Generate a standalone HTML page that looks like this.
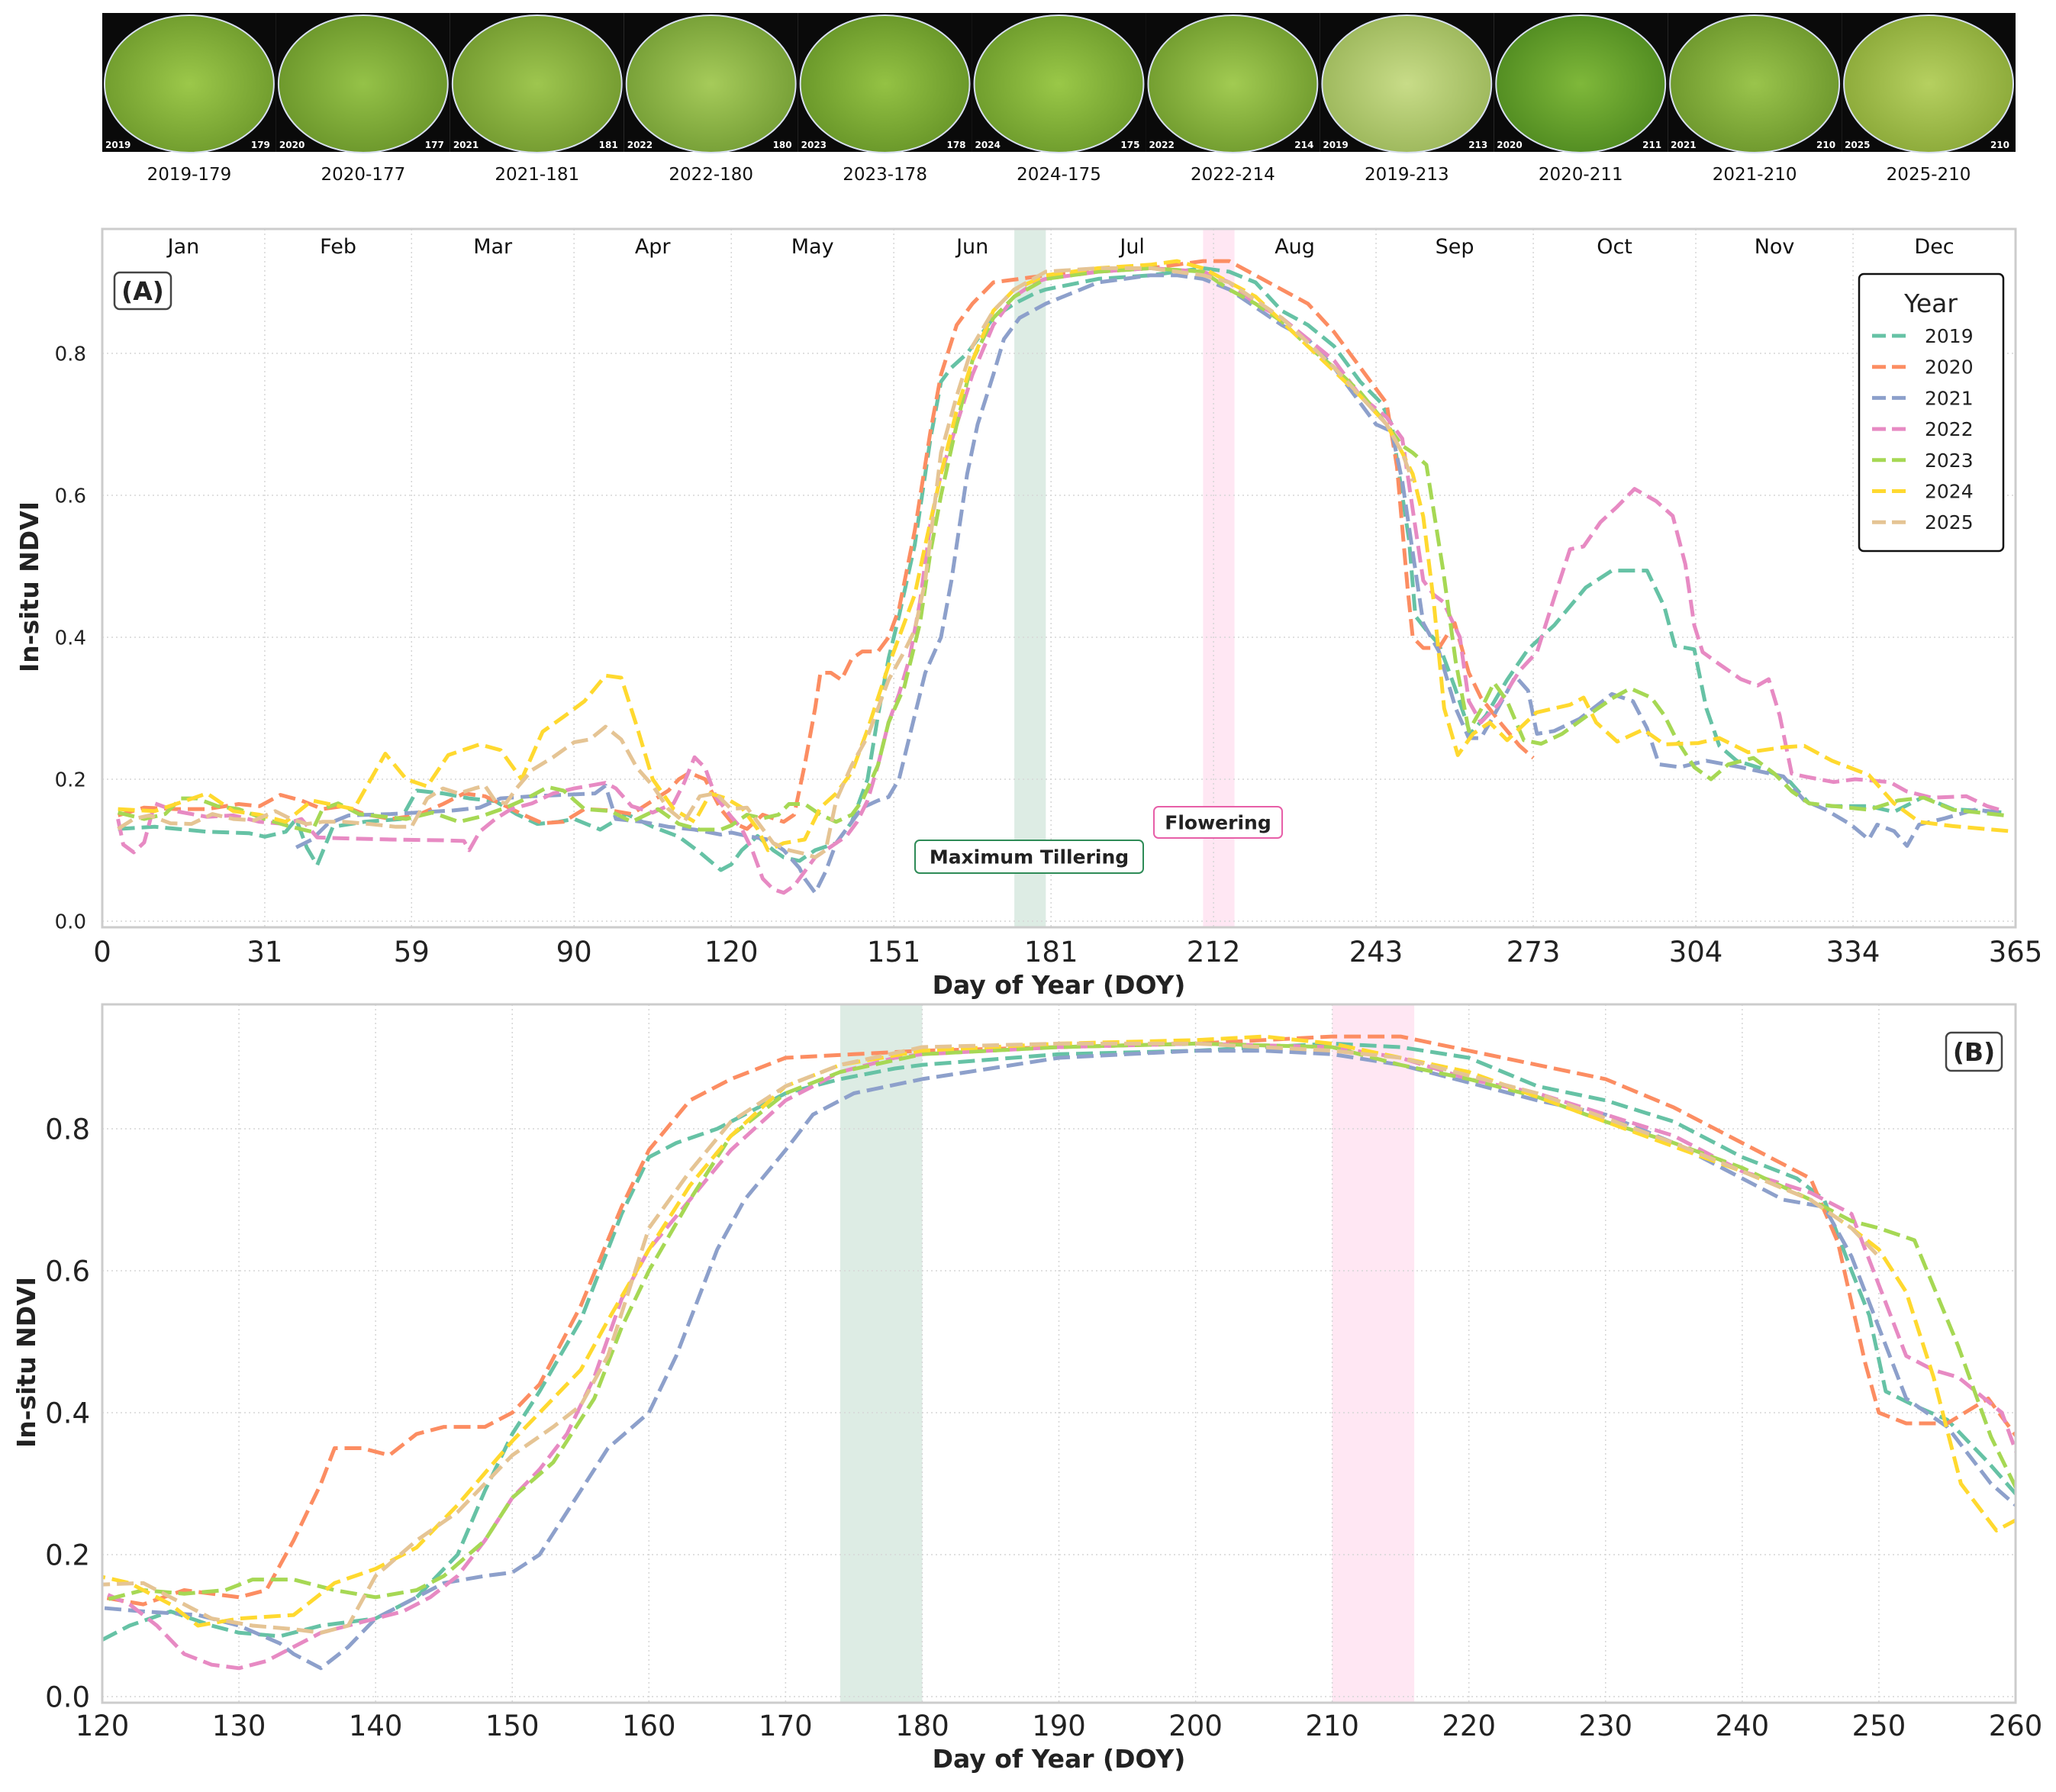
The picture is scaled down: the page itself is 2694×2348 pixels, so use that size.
<!DOCTYPE html>
<html><head><meta charset="utf-8"><style>
html,body{margin:0;padding:0;background:#fff;}
svg{display:block;font-family:"DejaVu Sans","Liberation Sans",sans-serif;}
</style></head><body>
<svg id="fig" width="2694" height="2348" viewBox="0 0 2694 2348" xmlns="http://www.w3.org/2000/svg">
<defs>
<clipPath id="clipA"><rect x="134" y="300" width="2507" height="915"/></clipPath>
<clipPath id="clipB"><rect x="134" y="1316" width="2507" height="915"/></clipPath>
</defs>
<g id="photos"></g>
<g id="panelA"></g>
<g id="panelB"></g>
</svg>
<script>
const years = ["2019","2020","2021","2022","2023","2024","2025"];
const colors = ["#66c2a5","#fc8d62","#8da0cb","#e78ac3","#a6d854","#ffd92f","#e5c494"];
const photoLabels = ["2019-179","2020-177","2021-181","2022-180","2023-178","2024-175","2022-214","2019-213","2020-211","2021-210","2025-210"];
const monthNames = ["Jan","Feb","Mar","Apr","May","Jun","Jul","Aug","Sep","Oct","Nov","Dec"];
const monthStarts = [0,31,59,90,120,151,181,212,243,273,304,334,365];
const ticksA = [0,31,59,90,120,151,181,212,243,273,304,334,365];
const ticksB = [120,130,140,150,160,170,180,190,200,210,220,230,240,250,260];
const yTicks = [0.0,0.2,0.4,0.6,0.8];

const doy2019 = [3,10,20,28,31,35,37,39,41,44,50,57,60,65,70,75,79,83,87,90,95,100,105,110,114,118,120,122,125,128,130,133,136,140,143,146,148,150,152,155,158,160,162,165,168,170,174,178,180,190,200,210,215,220,225,230,235,240,244,246,248,249.3,250.5,252.6,255,258,261,264,268,272,277,283,288,294.7,298,300,303.7,306,308.5,311.8,317.5,322,325.6,330,337,341.8,347.4,353,363];
const ndvi2019 = [0.13,0.133,0.126,0.124,0.119,0.126,0.144,0.104,0.079,0.133,0.14,0.144,0.184,0.18,0.173,0.169,0.151,0.137,0.14,0.144,0.129,0.151,0.133,0.119,0.097,0.072,0.08,0.10,0.12,0.10,0.09,0.085,0.10,0.11,0.14,0.20,0.29,0.37,0.43,0.53,0.68,0.76,0.78,0.80,0.83,0.85,0.87,0.885,0.89,0.905,0.91,0.92,0.915,0.90,0.86,0.84,0.81,0.76,0.73,0.70,0.60,0.537,0.43,0.41,0.39,0.33,0.264,0.29,0.34,0.383,0.417,0.47,0.494,0.494,0.443,0.388,0.383,0.3,0.247,0.226,0.213,0.196,0.166,0.162,0.162,0.154,0.175,0.158,0.153];
const doy2020 = [3,8,14,20,26,30,34,38,42,46,50,55,60,65,69,73,77,80,84,88,92,97,101,104,108,110,112,115,118,120,123,126,128,130,132,134,136,137,139,141,143,145,148,150,152,155,158,160,163,166,170,175,180,190,200,210,215,220,225,230,235,240,245,247,249,250,252,255,258,260.7,263,267,270.4,273];
const ndvi2020 = [0.149,0.16,0.158,0.158,0.165,0.162,0.178,0.17,0.158,0.162,0.151,0.144,0.149,0.165,0.18,0.176,0.162,0.151,0.138,0.14,0.158,0.156,0.151,0.165,0.184,0.2,0.209,0.2,0.158,0.14,0.13,0.15,0.145,0.14,0.15,0.22,0.30,0.35,0.35,0.34,0.37,0.38,0.38,0.40,0.44,0.55,0.69,0.77,0.84,0.87,0.90,0.905,0.91,0.915,0.92,0.93,0.93,0.91,0.89,0.87,0.83,0.78,0.73,0.64,0.47,0.40,0.385,0.385,0.42,0.35,0.315,0.277,0.247,0.23];
const doy2021 = [37,40,43,47,55,60,67,72,76,82,88,94,96,98,103,108,113,118,120,123,127,130,133,134,136,138,140,142,145,148,150,152,155,157,160,162,165,167,170,172,175,180,185,190,195,200,205,210,215,220,225,230,235,240,243,246,248,250,252,255,258.2,260.7,263,265.5,269.6,272,273.7,277,281.8,288,292,294.7,297,301,306,312.5,320.7,324.7,328.8,333.6,337,338.6,341.8,344.3,346.6,351.5,357.2,362.9];
const ndvi2021 = [0.104,0.115,0.137,0.149,0.151,0.153,0.156,0.16,0.173,0.176,0.178,0.18,0.191,0.144,0.14,0.133,0.129,0.122,0.125,0.12,0.115,0.10,0.075,0.06,0.04,0.07,0.11,0.13,0.16,0.17,0.175,0.20,0.29,0.35,0.40,0.48,0.63,0.70,0.77,0.82,0.85,0.87,0.885,0.90,0.905,0.91,0.91,0.905,0.89,0.865,0.84,0.82,0.78,0.73,0.70,0.69,0.62,0.52,0.42,0.38,0.30,0.258,0.258,0.29,0.345,0.325,0.264,0.268,0.285,0.32,0.31,0.272,0.221,0.217,0.226,0.217,0.204,0.17,0.157,0.136,0.115,0.136,0.127,0.106,0.136,0.145,0.157,0.153];
const doy2022 = [3,4,6,8,10,14,20,25,30,35,38,41,45,55,65,69,70,72,75,78,82,86,90,93,96,98,101,105,109,111,113,115,117,120,122,124,126,128,130,132,134,136,138,140,142,144,146,148,150,152,154,156,158,160,163,166,170,174,178,180,190,200,210,215,220,225,230,235,240,245,248,250,252,254,255.8,259,260.7,263,266.4,270.4,273.7,277,280,282.6,285.8,289,292.3,296.4,299.6,302,303.7,305.3,308.5,312.6,315.8,317.9,320,322.3,324.7,330.3,334.4,341,344.2,349,355.6,359.6,362.9];
const ndvi2022 = [0.144,0.108,0.097,0.111,0.166,0.155,0.147,0.149,0.14,0.137,0.144,0.118,0.117,0.115,0.114,0.113,0.1,0.126,0.144,0.158,0.166,0.18,0.187,0.191,0.195,0.187,0.162,0.153,0.166,0.195,0.231,0.216,0.176,0.147,0.13,0.10,0.06,0.045,0.04,0.05,0.07,0.09,0.10,0.11,0.12,0.14,0.17,0.22,0.28,0.32,0.37,0.45,0.56,0.63,0.70,0.77,0.84,0.88,0.90,0.905,0.915,0.92,0.915,0.90,0.87,0.85,0.82,0.79,0.74,0.71,0.68,0.58,0.48,0.46,0.45,0.40,0.31,0.28,0.306,0.353,0.379,0.456,0.524,0.528,0.562,0.584,0.609,0.592,0.571,0.503,0.417,0.379,0.362,0.341,0.332,0.341,0.29,0.208,0.204,0.196,0.2,0.196,0.183,0.174,0.176,0.162,0.155];
const doy2023 = [3,8,12,15,18,22,26,31,36,40,42,45,49,54,58,63,68,72,77,81,85,88,92,97,101,106,110,114,118,120,123,126,129,131,134,137,140,143,145,148,150,153,156,158,160,163,166,170,174,180,190,200,210,215,220,225,230,235,240,245,248,250,252.6,255.8,258.2,260.7,263,265.5,268,271.2,274.5,278.5,283.4,288.3,291.5,295.5,298,300.4,303.7,306.9,310.2,315,319,322.3,325.6,330.4,337,342.6,347.5,353,358,362.9];
const ndvi2023 = [0.153,0.144,0.151,0.173,0.173,0.162,0.158,0.144,0.133,0.126,0.158,0.166,0.151,0.147,0.144,0.153,0.14,0.147,0.16,0.173,0.189,0.184,0.158,0.155,0.14,0.158,0.137,0.129,0.129,0.135,0.15,0.145,0.15,0.165,0.165,0.15,0.14,0.15,0.17,0.22,0.28,0.33,0.42,0.52,0.60,0.70,0.79,0.85,0.88,0.905,0.915,0.92,0.915,0.89,0.87,0.845,0.81,0.78,0.745,0.70,0.67,0.66,0.643,0.494,0.366,0.268,0.298,0.336,0.31,0.255,0.25,0.264,0.29,0.315,0.328,0.315,0.29,0.255,0.217,0.2,0.221,0.23,0.208,0.183,0.166,0.162,0.157,0.17,0.174,0.157,0.153,0.149];
const doy2024 = [3,10,20,25,30,35,40,48,54,58,62,66,72,76,80,84,88,92,96,99,102,105,109,113,116,119,122,125,127,130,134,137,140,143,146,150,153,155,157,160,163,166,170,174,180,190,200,205,210,215,220,230,240,245,248,250,252,254,256,258.6,261.5,264.7,268,273.6,280,282.6,285,289,294,298,304.5,308.5,314,320.7,324.7,330,337,341.8,346.6,353,363.7];
const ndvi2024 = [0.158,0.155,0.18,0.155,0.15,0.14,0.17,0.158,0.236,0.2,0.19,0.234,0.249,0.241,0.2,0.267,0.288,0.31,0.346,0.343,0.274,0.2,0.158,0.14,0.18,0.173,0.16,0.13,0.10,0.11,0.115,0.16,0.18,0.21,0.27,0.36,0.42,0.46,0.53,0.63,0.72,0.79,0.86,0.89,0.91,0.92,0.925,0.93,0.92,0.90,0.88,0.81,0.74,0.70,0.66,0.63,0.57,0.45,0.30,0.234,0.264,0.28,0.255,0.294,0.305,0.315,0.28,0.253,0.27,0.249,0.251,0.258,0.238,0.245,0.247,0.226,0.206,0.166,0.14,0.134,0.127];
const doy2025 = [3,6,9,13,17,21,25,29,33,36,39,42,46,51,56,59,62,65,68,71,73,75,77,79,82,86,90,93,96,99,102,105,108,111,114,117,120,123,126,128,131,134,136,138,140,143,146,148,150,153,155,157,160,163,166,170,174,180,190,200,210,215,220,225,230,235,240,245,248,250];
const ndvi2025 = [0.13,0.144,0.149,0.138,0.137,0.151,0.144,0.142,0.155,0.144,0.137,0.14,0.14,0.137,0.133,0.133,0.173,0.187,0.18,0.187,0.191,0.169,0.166,0.187,0.213,0.231,0.252,0.256,0.274,0.256,0.216,0.191,0.158,0.14,0.176,0.18,0.158,0.16,0.13,0.11,0.10,0.095,0.09,0.10,0.17,0.22,0.26,0.30,0.34,0.38,0.41,0.48,0.66,0.74,0.81,0.86,0.89,0.915,0.92,0.92,0.91,0.90,0.875,0.85,0.815,0.78,0.74,0.70,0.66,0.62];

const allDoy = [doy2019,doy2020,doy2021,doy2022,doy2023,doy2024,doy2025];
const allNdvi = [ndvi2019,ndvi2020,ndvi2021,ndvi2022,ndvi2023,ndvi2024,ndvi2025];

const NS = "http://www.w3.org/2000/svg";
function mk(tag, attrs, parent, text){
  const e = document.createElementNS(NS, tag);
  for (const k in attrs) e.setAttribute(k, attrs[k]);
  if (text !== undefined) e.textContent = text;
  parent.appendChild(e);
  return e;
}
const L = 134, R = 2641;
const xA = d => L + d*(R-L)/365;
const xB = d => L + (d-120)*(R-L)/140;
const yA = v => 1207 - v*930;
const yB = v => 2223 - v*930;

/* ---------- photo strip ---------- */
const photos = document.getElementById('photos');
const photoCols = [["#9cc84a","#6e9a2c"],["#95c248","#6a952a"],["#9ec64f","#72992f"],["#a6cb5a","#749d35"],["#94c244","#679528"],["#9ac848","#6c9a2b"],["#a2cb52","#6f9a2d"],["#c8dc88","#9bb65a"],["#7fb83a","#4f8a20"],["#9ac44c","#6c962c"],["#b6d060","#8aa838"]];
const defs = document.querySelector('defs');
const pw = (R-L)/11;
for (let i=0;i<11;i++){
  const g = mk('radialGradient',{id:'pg'+i,cx:'50%',cy:'50%',r:'55%'},defs);
  mk('stop',{offset:'0%','stop-color':photoCols[i][0]},g);
  mk('stop',{offset:'100%','stop-color':photoCols[i][1]},g);
  const px = L + i*pw;
  const r = mk('rect',{x:px,y:17,width:pw,height:182,fill:'#0a0a0a'},photos);
  
  
  const e = mk('ellipse',{cx:px+pw/2,cy:110,rx:pw/2-3,ry:90,fill:'url(#pg'+i+')',stroke:'#d8e0f0','stroke-width':2},photos);
  
  
  const yr = photoLabels[i].split('-');
  const t1 = mk('text',{x:px+4,y:194,'font-size':12,fill:'#fff','font-weight':'bold'},photos,yr[0]);
  
  
  const t2 = mk('text',{x:px+pw-8,y:194,'font-size':12,fill:'#fff','text-anchor':'end','font-weight':'bold'},photos,yr[1]);
  
  
  const lb = mk('text',{x:px+pw/2,y:236,'font-size':23,fill:'#111','text-anchor':'middle'},photos,photoLabels[i]);
  
  
}

/* ---------- panels ---------- */
function panel(gid, top, xf, yf, xticks, xtickFont, ytickFont, ytickX, clip, isA){
  const g = document.getElementById(gid);
  const bottom = top + 915;
  // spans
  const s1 = mk('rect',{x:xf(174),y:top,width:xf(180)-xf(174),height:915,fill:'rgba(46,139,87,0.16)'},g);
  
  
  const s2 = mk('rect',{x:xf(210),y:top,width:xf(216)-xf(210),height:915,fill:'rgba(255,105,180,0.16)'},g);
  
  
  // grid
  xticks.forEach(t=>{
    const l = mk('line',{x1:xf(t),x2:xf(t),y1:top,y2:bottom,stroke:'#d6d6d6','stroke-width':1.5,'stroke-dasharray':'2,4'},g);
    
    
    const tl = mk('text',{x:xf(t),y:isA?1260:2274,'font-size':xtickFont,fill:'#222','text-anchor':'middle'},g,String(t));
    
    
  });
  yTicks.forEach(v=>{
    const l = mk('line',{x1:L,x2:R,y1:yf(v),y2:yf(v),stroke:'#d6d6d6','stroke-width':1.5,'stroke-dasharray':'2,4'},g);
    
    
    const tl = mk('text',{x:ytickX,y:yf(v)+ytickFont*0.36,'font-size':ytickFont,fill:'#222','text-anchor':'end'},g,v.toFixed(1));
    
    
  });
  // series
  const sg = mk('g',{'clip-path':'url(#'+clip+')'},g);
  
  
  for (let k=0;k<years.length;k++){
    const d = allDoy[k], v = allNdvi[k];
    const n = Math.min(d.length, v.length);
    let p = '';
    for (let i=0;i<n;i++) p += (i?'L':'M') + xf(d[i]).toFixed(1) + ',' + yf(v[i]).toFixed(1);
    const path = mk('path',{d:p,fill:'none',stroke:colors[k],'stroke-width':5,'stroke-dasharray':'22,9','stroke-linejoin':'round'},sg);
    
    
  }
  // frame
  const f = mk('rect',{x:L,y:top,width:R-L,height:915,fill:'none',stroke:'#cccccc','stroke-width':3},g);
  
  
  // axis titles
  const xt = mk('text',{x:(L+R)/2,y:isA?1302:2316,'font-size':33,'font-weight':'bold',fill:'#222','text-anchor':'middle'},g,'Day of Year (DOY)');
  
  
  const yc = top + 457;
  const yt = mk('text',{x:isA?38:34,y:yc,'font-size':33,'font-weight':'bold',fill:'#222','text-anchor':'middle',transform:'rotate(-90 '+(isA?50:46)+' '+yc+')'},g,'In-situ NDVI');
  
  
  return g;
}
const gA = panel('panelA', 300, xA, yA, ticksA, 37, 26, 113, 'clipA', true);
const gB = panel('panelB', 1316, xB, yB, ticksB, 37, 37, 118, 'clipB', false);

// month labels
for (let m=0;m<12;m++){
  const t = mk('text',{x:xA((monthStarts[m]+monthStarts[m+1])/2),y:332,'font-size':27,fill:'#111','text-anchor':'middle'},gA,monthNames[m]);
  
  
}
// panel tags
function tag(g,x,y,w,h,txt,name){
  const r = mk('rect',{x:x,y:y,width:w,height:h,rx:7,fill:'#fff',stroke:'#444','stroke-width':2.5},g);
  
  
  const t = mk('text',{x:x+w/2,y:y+h/2+12,'font-size':33,'font-weight':'bold',fill:'#222','text-anchor':'middle'},g,txt);
  
  
}
tag(gA,150,357,74,48,'(A)','panel-a-label');
tag(gB,2550,1353,73,50,'(B)','panel-b-label');
// annotations
function ann(x,y,w,h,txt,stroke,name){
  const r = mk('rect',{x:x,y:y,width:w,height:h,rx:6,fill:'#fff',stroke:stroke,'stroke-width':2},gA);
  
  
  const t = mk('text',{x:x+w/2,y:y+h/2+9,'font-size':25,'font-weight':'bold',fill:'#222','text-anchor':'middle'},gA,txt);
  
  
}
ann(1199,1101,299,43,'Maximum Tillering','#2e8b57','maximum-tillering-annotation');
ann(1512,1057,168,41,'Flowering','#e75fa8','flowering-annotation');
// legend
const lg = mk('g',{},gA);


mk('rect',{x:2436,y:359,width:189,height:363,rx:6,fill:'#fff',stroke:'#111','stroke-width':2.5},lg);
const lt = mk('text',{x:2530,y:409,'font-size':33,fill:'#222','text-anchor':'middle'},lg,'Year');


for (let k=0;k<years.length;k++){
  const yy = 440 + k*40.7;
  const ln = mk('line',{x1:2453,x2:2505,y1:yy,y2:yy,stroke:colors[k],'stroke-width':5,'stroke-dasharray':'18,8'},lg);
  
  
  const tx = mk('text',{x:2522,y:yy+9,'font-size':25,fill:'#222'},lg,years[k]);
  
  
}
</script>
</body></html>
